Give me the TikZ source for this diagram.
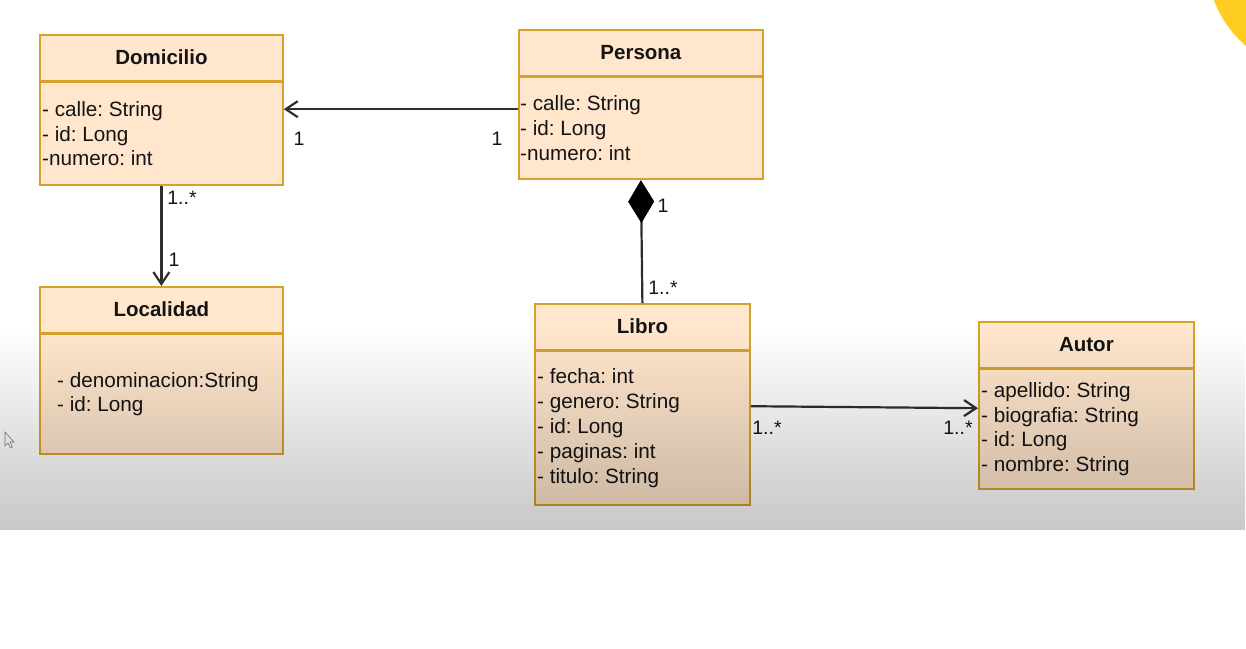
\documentclass[tikz,border=0pt]{standalone}
\usepackage{fontspec}
\setmainfont{Liberation Sans}
\usetikzlibrary{arrows.meta,fadings}

\definecolor{umlfill}{HTML}{FFE6CC}
\definecolor{umlborder}{HTML}{D6A22C}
\definecolor{linegray}{HTML}{2E2E2E}
\definecolor{textdark}{HTML}{141414}
\definecolor{sunyellow}{HTML}{FFCC22}

\tikzfading[name=fadedown, top color=transparent!100, bottom color=transparent!0]
\frenchspacing

\begin{document}
\begin{tikzpicture}[x=1pt,y=-1pt]
    \useasboundingbox (0,0) rectangle (1246,648);
    %\draw[help lines] (0,0) grid[step=50] (1246,648);
    \tikzset{ClassHead/.style = {%
        shape = rectangle,
        draw = umlborder,
        fill = umlfill,
        line width = 1.8pt,
        anchor = north west,
        minimum height = 45.5pt,
        inner sep = 0pt,
        text = textdark,
        font = \fontsize{20.5}{24.8}\selectfont\bfseries}}
    \tikzset{ClassBody/.style = {%
        shape = rectangle,
        draw = umlborder,
        fill = umlfill,
        line width = 1.8pt,
        anchor = north,
        inner sep = 0pt}}
    \tikzset{AttrList/.style = {anchor = west, align = left, inner sep = 0pt,
        text = textdark, font = \fontsize{20.7}{24.8}\selectfont}}
    \tikzset{Mult/.style = {inner sep = 0pt, text = textdark,
        font = \fontsize{19.5}{19.5}\selectfont}}
    \tikzset{Assoc/.style = {draw = linegray, line width = 2.2pt,
        -{Straight Barb[length=12pt,width=16pt]}}}
    \tikzset{Compo/.style = {draw = linegray, line width = 2.2pt,
        {Diamond[length=43pt,width=26pt,black]}-}}

    % corner of the sun
    \begin{scope}
        \clip (0,0) rectangle (1246,648);
        \fill[sunyellow] (1320,-40) circle (113.5pt);
    \end{scope}

    % classes
    \node[ClassHead, minimum width=243pt] (domicilio) at (39,34) {Domicilio};
    \node[ClassBody, minimum width=243pt, minimum height=103pt] (domicilioB) at (domicilio.south) {};
    \node[AttrList, xshift=3pt] (domicilioA) at (domicilioB.west) {- calle: String\\- id: Long\\-numero: int};

    \node[ClassHead, minimum width=244pt] (persona) at (518,29) {Persona};
    \node[ClassBody, minimum width=244pt, minimum height=102pt] (personaB) at (persona.south) {};
    \node[AttrList, xshift=2pt] (personaA) at (personaB.west) {- calle: String\\- id: Long\\-numero: int};

    \node[ClassHead, minimum width=243pt] (localidad) at (39,286) {Localidad};
    \node[ClassBody, minimum width=243pt, minimum height=120pt] (localidadB) at (localidad.south) {};
    \node[AttrList, xshift=18pt] (localidadA) at (localidadB.west) {- denominacion:String\\- id: Long};

    \node[ClassHead, minimum width=215pt] (libro) at (534,303) {Libro};
    \node[ClassBody, minimum width=215pt, minimum height=154pt] (libroB) at (libro.south) {};
    \node[AttrList, xshift=3pt] (libroA) at (libroB.west) {- fecha: int\\- genero: String\\- id: Long\\- paginas: int\\- titulo: String};

    \node[ClassHead, minimum width=215pt] (autor) at (978,321) {Autor};
    \node[ClassBody, minimum width=215pt, minimum height=120pt] (autorB) at (autor.south) {};
    \node[AttrList, xshift=3pt] (autorA) at (autorB.west) {- apellido: String\\- biografia: String\\- id: Long\\- nombre: String};

    % relations
    \draw[Assoc] ([yshift=19pt]personaB.west) -- ([yshift=24.5pt]domicilioB.east);
    \draw[Assoc] (domicilioB.south) -- (localidad.north);
    \draw[Compo] (personaB.south) -- (libro.north);
    \draw[Assoc] ([yshift=22pt]libroB.east) -- ([yshift=21pt]autorB.west);

    \node[Mult] (m1) at (299,139) {1};
    \node[Mult] (m2) at (497,139) {1};
    \node[Mult] (m3) at (182,198) {1..*};
    \node[Mult] (m4) at (174,260) {1};
    \node[Mult] (m5) at (663,206) {1};
    \node[Mult] (m6) at (663,288) {1..*};
    \node[Mult] (m7) at (767,428) {1..*};
    \node[Mult] (m8) at (958,428) {1..*};

    % mouse pointer
    \draw[gray, fill=white, line width=0.6pt] (5,432) -- (5,446) -- (8,443) -- (10.5,448) -- (12.5,447) -- (10,442) -- (14,442) -- cycle;

    % shading of the player
    \fill[black, opacity=0.22, path fading=fadedown] (0,330) rectangle (1246,530);
\end{tikzpicture}
\end{document}
